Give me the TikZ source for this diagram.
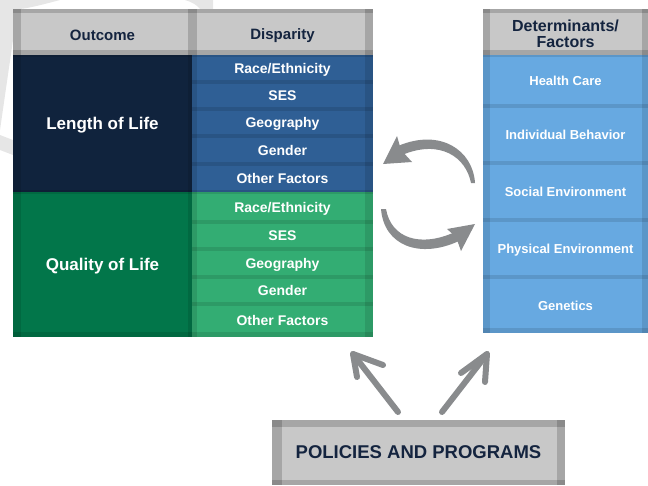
\documentclass[tikz,border=0pt]{standalone}
\usepackage{fontspec}
\setmainfont{Liberation Sans}
\usetikzlibrary{calc}
\definecolor{hdrgray}{HTML}{C8C8C8}
\definecolor{navytext}{HTML}{14243F}
\definecolor{navyblk}{HTML}{10233D}
\definecolor{bluerow}{HTML}{2F5F95}
\definecolor{greenblk}{HTML}{02764A}
\definecolor{greenrow}{HTML}{33AD73}
\definecolor{ltblue}{HTML}{67A9E1}
\definecolor{arrowgray}{HTML}{898B8D}
\definecolor{wmark}{HTML}{E6E6E6}
\tikzset{
  bandl/.store in=\bandl, bandr/.store in=\bandr,
  bandt/.store in=\bandt, bandb/.store in=\bandb, bandop/.store in=\bandop,
  cell/.style={rectangle, anchor=north west, inner sep=0pt, outer sep=0pt,
    align=center, text=white, text height=1.15em, text depth=0.1em,
    font=\bfseries\fontsize{14}{16}\selectfont,
    bandl=5pt, bandr=5pt, bandt=2pt, bandb=2.5pt, bandop=0.11,
    path picture={
      \fill[black, fill opacity=\bandop] (path picture bounding box.north west) rectangle ([xshift=\bandl]path picture bounding box.south west);
      \fill[black, fill opacity=\bandop] (path picture bounding box.north east) rectangle ([xshift=-\bandr]path picture bounding box.south east);
      \fill[black, fill opacity=\bandop] (path picture bounding box.north west) rectangle ([yshift=-\bandt]path picture bounding box.north east);
      \fill[black, fill opacity=\bandop] (path picture bounding box.south west) rectangle ([yshift=\bandb]path picture bounding box.south east);
    }},
  hdr/.style={cell, fill=hdrgray, text=navytext, bandop=0.17, bandt=4pt, bandb=5pt,
    text height=1.6em, text depth=0.1em,
    font=\bfseries\fontsize{15}{16}\selectfont},
  outc/.style={cell, bandl=8pt, bandr=4pt, minimum width=179pt, text height=1.2em, font=\bfseries\fontsize{17}{19}\selectfont},
  disp/.style={cell, bandl=5pt, bandr=8pt, minimum width=181pt},
  detc/.style={cell, fill=ltblue, bandl=7pt, bandr=6pt, minimum width=165pt, font=\bfseries\fontsize{13}{15}\selectfont},
  gline/.style={draw=arrowgray, line width=6pt, line cap=round, line join=round},
  gfill/.style={fill=arrowgray},
}
\begin{document}
\begin{tikzpicture}[x=1pt, y=-1pt]
\useasboundingbox (0,0) rectangle (648,485);
% faint watermark
\fill[wmark] (0,0) -- (60,0) .. controls (45,4) and (30,8) .. (20,9) -- (13,9) -- (13,40) -- (0,130) -- cycle;
\fill[wmark] (185,0) -- (213,0) -- (213,9) -- (200,9) .. controls (197,5) and (192,2) .. (185,0) -- cycle;
\fill[wmark] (0,135) -- (13,140) -- (13,155) -- (0,150) -- cycle;
% left table header
\node[hdr, bandl=8pt, bandr=4pt, minimum width=179pt, minimum height=46pt, text height=1.75em] (hout) at (13,9) {Outcome};
\node[hdr, bandl=5pt, bandr=8pt, minimum width=181pt, minimum height=46pt] (hdis) at (192,9) {Disparity};
% outcome blocks
\node[outc, fill=navyblk, minimum height=137pt] (len) at (13,55) {Length of Life};
\node[outc, fill=greenblk, minimum height=145pt, bandb=5pt] (qol) at (13,192) {Quality of Life};
% disparity rows, length of life
\node[disp, fill=bluerow, minimum height=27pt] (b1) at (192,55) {Race/Ethnicity};
\node[disp, fill=bluerow, minimum height=27pt] (b2) at (192,82) {SES};
\node[disp, fill=bluerow, minimum height=27pt] (b3) at (192,109) {Geography};
\node[disp, fill=bluerow, minimum height=28pt] (b4) at (192,136) {Gender};
\node[disp, fill=bluerow, minimum height=28pt] (b5) at (192,164) {Other Factors};
% disparity rows, quality of life
\node[disp, fill=greenrow, minimum height=30pt] (g1) at (192,192) {Race/Ethnicity};
\node[disp, fill=greenrow, minimum height=27pt] (g2) at (192,222) {SES};
\node[disp, fill=greenrow, minimum height=28pt] (g3) at (192,249) {Geography};
\node[disp, fill=greenrow, minimum height=27pt] (g4) at (192,277) {Gender};
\node[disp, fill=greenrow, minimum height=33pt, bandb=5pt] (g5) at (192,304) {Other Factors};
% determinants table
\node[hdr, bandl=7pt, bandr=6pt, minimum width=165pt, minimum height=46pt,
      font=\bfseries\fontsize{16}{16}\selectfont, text height=31pt, text depth=0pt] (hdet) at (483,9) {Determinants/\\Factors};
\node[detc, minimum height=51pt] (d1) at (483,55) {Health Care};
\node[detc, minimum height=57pt] (d2) at (483,106) {Individual Behavior};
\node[detc, minimum height=57pt] (d3) at (483,163) {Social Environment};
\node[detc, minimum height=57pt] (d4) at (483,220) {Physical Environment};
\node[detc, minimum height=56pt, bandb=5pt] (d5) at (483,277) {Genetics};
% policies box
\node[hdr, bandl=10pt, bandr=8pt, bandt=7pt, bandb=5pt, minimum width=293pt, minimum height=65pt,
      text height=1.37em, font=\bfseries\fontsize{18.5}{20}\selectfont] (pp) at (272,420) {POLICIES AND PROGRAMS};
% cycle arrows
\fill[gfill] (475,183) .. controls (473,150) and (440,128) .. (398,146)
  -- (402,155) .. controls (440,139) and (466,157) .. (471,183) -- cycle;
\fill[gfill] (383,164) -- (397,136) -- (401,150) -- (412,162) -- cycle;
\fill[gfill] (381,209) .. controls (384,246) and (420,259) .. (459,241)
  -- (455,232) .. controls (420,248) and (391,238) .. (386,209) -- cycle;
\fill[gfill] (475,224) -- (447,229) -- (456,237) -- (461,251) -- cycle;
% arrows from policies box
\coordinate (lt) at (398,412);
\coordinate (lh) at (353,354);
\coordinate (rt) at (442,412);
\coordinate (rh) at (487,354);
\draw[gline] (lt) -- (lh);
\draw[gline] ($(lh)+(30,11)$) -- (lh) -- ($(lh)+(4,23)$);
\draw[gline] (rt) -- (rh);
\draw[gline] ($(rh)+(-26,19)$) -- (rh) -- ($(rh)+(-2,28)$);
\end{tikzpicture}
\end{document}
